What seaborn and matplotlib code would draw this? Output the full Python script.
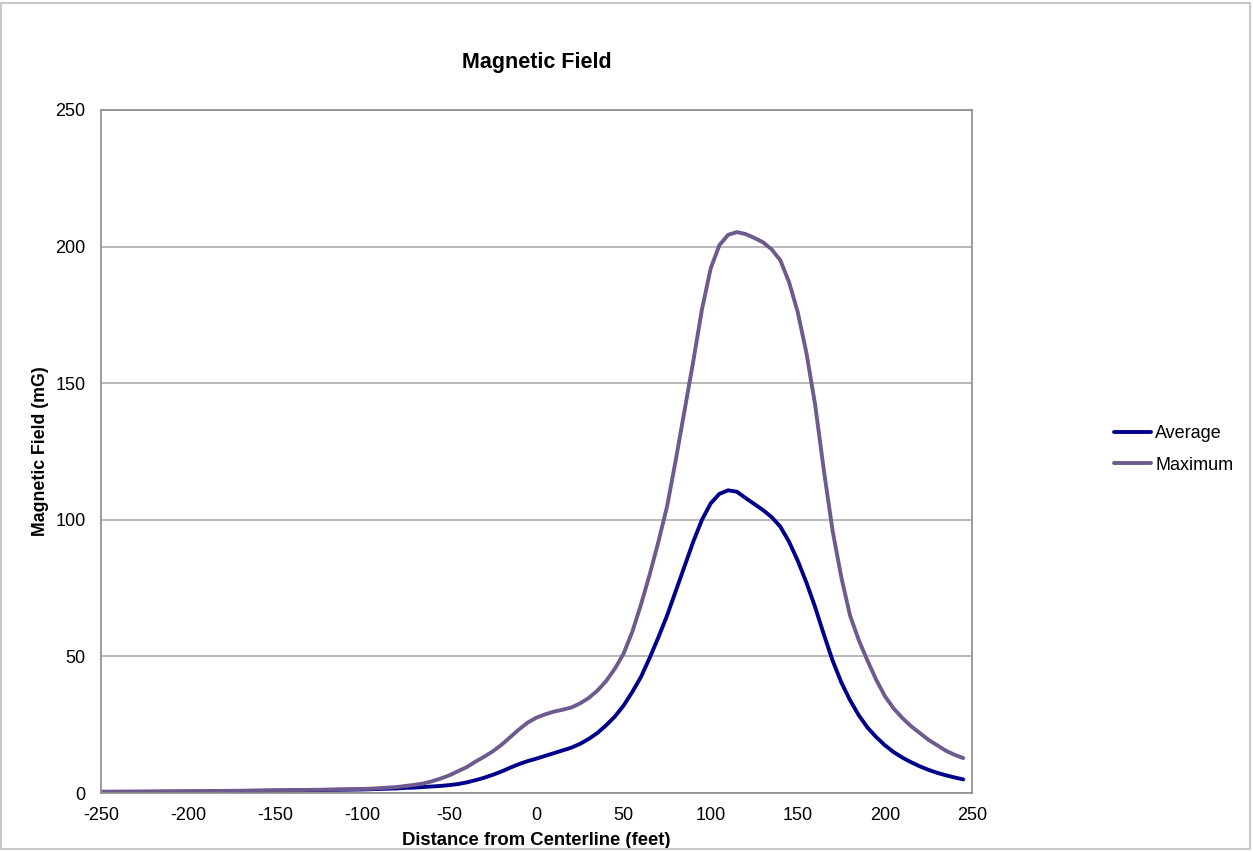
import numpy as np
import pandas as pd
import matplotlib
matplotlib.use("Agg")
import matplotlib.pyplot as plt
import seaborn as sns

# distance from centerline (feet)
distance = [-250, -225, -200, -175, -150, -125, -100,
            -95, -90, -85, -80, -75, -70, -65, -60, -55, -50,
            -45, -40, -35, -30, -25, -20, -15, -10, -5, 0,
            5, 10, 15, 20, 25, 30, 35, 40, 45, 50,
            55, 60, 65, 70, 75, 80, 85, 90, 95, 100,
            105, 110, 115, 120, 125, 130, 135, 140, 145, 150,
            155, 160, 165, 170, 175, 180, 185, 190, 195, 200,
            205, 210, 215, 220, 225, 230, 235, 240, 245]

average = [0.3, 0.4, 0.5, 0.7, 0.9, 1.1, 1.3,
           1.4, 1.5, 1.6, 1.7, 1.9, 2.0, 2.2, 2.4, 2.6, 2.9,
           3.3, 3.9, 4.7, 5.6, 6.7, 7.9, 9.3, 10.6, 11.7, 12.6,
           13.6, 14.6, 15.6, 16.6, 18.0, 19.8, 22.0, 24.8, 28.0, 32.0,
           37.0, 42.5, 49.5, 57.0, 65.0, 74.0, 83.0, 92.0, 100.0, 106.0,
           109.5, 110.8, 110.3, 108.0, 105.8, 103.6, 101.0, 97.5, 92.0, 85.0,
           77.0, 68.0, 58.0, 48.5, 40.5, 34.0, 28.5, 24.0, 20.5, 17.5,
           15.0, 13.0, 11.3, 9.8, 8.5, 7.4, 6.5, 5.7, 5.0]

maximum = [0.5, 0.6, 0.7, 0.8, 1.0, 1.2, 1.5,
           1.6, 1.8, 2.0, 2.2, 2.6, 3.0, 3.5, 4.3, 5.3, 6.5,
           8.0, 9.5, 11.5, 13.3, 15.3, 17.7, 20.5, 23.3, 25.8, 27.6,
           28.8, 29.8, 30.5, 31.3, 32.8, 34.8, 37.5, 41.0, 45.5, 51.0,
           59.0, 69.0, 80.0, 92.0, 105.0, 122.0, 140.0, 158.0, 177.0, 192.0,
           200.5, 204.3, 205.3, 204.6, 203.2, 201.6, 199.0, 195.0, 187.0, 176.0,
           161.0, 142.0, 118.0, 96.0, 79.0, 65.0, 56.0, 48.5, 41.5, 35.5,
           31.0, 27.5, 24.5, 22.0, 19.5, 17.5, 15.5, 14.0, 12.8]

df = pd.DataFrame({"distance": distance * 2,
                   "field": average + maximum,
                   "series": ["Average"] * len(distance) + ["Maximum"] * len(distance)})

sns.set_theme(style="white")
plt.rcParams['font.family'] = ['Liberation Sans', 'DejaVu Sans']
plt.rcParams['axes.unicode_minus'] = False
plt.rcParams['text.color'] = 'black'
plt.rcParams['axes.labelcolor'] = 'black'

fig = plt.figure(figsize=(12.53, 8.52), dpi=100)
ax = fig.add_axes([0.0806, 0.0692, 0.6951, 0.8017])

palette = {"Average": "#00008B", "Maximum": "#6E5A8E"}
sns.lineplot(data=df, x="distance", y="field", hue="series", palette=palette,
             linewidth=2.8, ax=ax, legend=False, solid_joinstyle="round")

ax.set_xlim(-250, 250)
ax.set_ylim(0, 250)
ax.set_xticks(np.arange(-250, 251, 50))
ax.set_yticks(np.arange(0, 251, 50))
ax.yaxis.grid(True, color="#A6A6A6", linewidth=1.1)
ax.xaxis.grid(False)
for s in ax.spines.values():
    s.set_color("#8C8C8C")
    s.set_linewidth(1.2)
ax.tick_params(axis="both", direction="out", length=6, width=1, color="#8C8C8C",
               labelsize=13, pad=5, labelcolor="black")
ax.tick_params(axis="x", pad=4)

ax.set_title("Magnetic Field", fontsize=15.5, fontweight="bold", pad=30, color="black")
ax.set_xlabel("Distance from Centerline (feet)", fontsize=13.3, fontweight="bold", labelpad=6)
ax.set_ylabel("Magnetic Field (mG)", fontsize=12.8, fontweight="bold", labelpad=5)

handles = [plt.Line2D([], [], color=palette[k], linewidth=2.8) for k in ["Average", "Maximum"]]
fig.legend(handles, ["Average", "Maximum"], loc="center left",
           bbox_to_anchor=(0.876, 0.4725), frameon=False, fontsize=13,
           handlelength=2.05, handletextpad=0.25, labelspacing=0.8)

fig.patches.append(plt.Rectangle((0.001, 0.004), 0.997, 0.992, transform=fig.transFigure,
                                 fill=False, edgecolor="#C8C8C8", linewidth=1.5))

fig.savefig("out.png", dpi=100, facecolor="white")
